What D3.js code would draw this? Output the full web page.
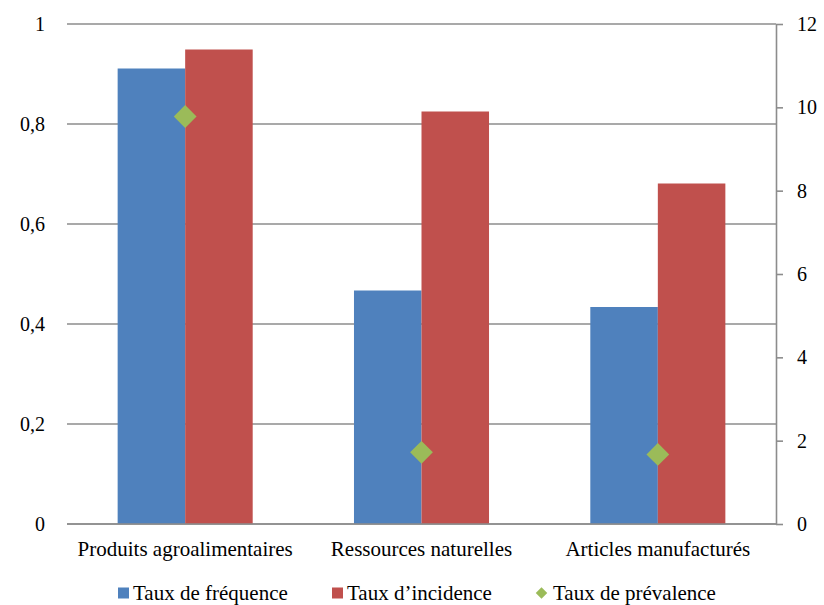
<!DOCTYPE html>
<html>
<head>
<meta charset="utf-8">
<script src="https://cdn.jsdelivr.net/npm/d3@7"></script>
<style>
  body { margin: 0; background: #fff; }
  svg { display: block; }
  svg text { font-family: "Liberation Serif", "Times New Roman", Times, serif !important; fill: #000; }
</style>
</head>
<body>
<svg id="chart" width="824" height="605"></svg>
<script>
// Categories and series
const categories = ["Produits agroalimentaires", "Ressources naturelles", "Articles manufacturés"];
const frequence = [0.911, 0.467, 0.434];   // left axis
const incidence = [0.949, 0.825, 0.681];   // left axis
const prevalence = [9.78, 1.72, 1.67];     // right axis
const leftTicks = [0, 0.2, 0.4, 0.6, 0.8, 1];
const rightTicks = [0, 2, 4, 6, 8, 10, 12];
const seriesNames = ["Taux de fréquence", "Taux d’incidence", "Taux de prévalence"];
const colors = ["#4F81BD", "#C0504D", "#9BBB59"];

const svg = d3.select("#chart");
const m = { left: 67, right: 776, top: 24, bottom: 524 };

const x0 = d3.scaleBand().domain(categories).range([m.left, m.right]).padding(0);
const x1 = d3.scaleBand().domain([0, 1]).range([0, x0.bandwidth()]).paddingInner(0).paddingOuter(0.75);
const yL = d3.scaleLinear().domain([0, 1]).range([m.bottom, m.top]);
const yR = d3.scaleLinear().domain([0, 12]).range([m.bottom, m.top]);

const fmt = d => String(d).replace(".", ",");
const gridColor = "#8c8c8c";

// Horizontal gridlines (left axis)
svg.append("g")
  .selectAll("line")
  .data(leftTicks)
  .join("line")
  .attr("x1", m.left).attr("x2", m.right)
  .attr("y1", d => yL(d)).attr("y2", d => yL(d))
  .attr("stroke", gridColor).attr("stroke-width", 1.6);

// Bars
const rows = categories.map((c, i) => ({ c, vals: [frequence[i], incidence[i]] }));
const groups = svg.append("g").selectAll("g")
  .data(rows).join("g")
  .attr("transform", d => `translate(${x0(d.c)},0)`);
groups.selectAll("rect")
  .data(d => d.vals.map((v, k) => ({ v, k })))
  .join("rect")
  .attr("x", d => x1(d.k))
  .attr("width", x1.bandwidth())
  .attr("y", d => yL(d.v))
  .attr("height", d => yL(0) - yL(d.v))
  .attr("fill", d => colors[d.k]);

// Left axis labels (no axis line)
const leftAxis = d3.axisLeft(yL).tickValues(leftTicks).tickFormat(fmt).tickSize(0).tickPadding(22);
const gL = svg.append("g").attr("transform", `translate(${m.left},0)`).call(leftAxis);
gL.select(".domain").remove();
gL.selectAll("text").attr("font-size", 20);

// Right axis with line and outward ticks
const rightAxis = d3.axisRight(yR).tickValues(rightTicks).tickFormat(fmt).tickSizeInner(7).tickSizeOuter(0).tickPadding(14);
const gR = svg.append("g").attr("transform", `translate(${m.right},0)`).call(rightAxis);
gR.select(".domain").attr("stroke", gridColor).attr("stroke-width", 1.6);
gR.selectAll(".tick line").attr("stroke", gridColor).attr("stroke-width", 1.6);
gR.selectAll("text").attr("font-size", 20);

// Baseline
svg.append("line")
  .attr("x1", m.left).attr("x2", m.right)
  .attr("y1", yL(0)).attr("y2", yL(0))
  .attr("stroke", gridColor).attr("stroke-width", 1.6);

// Category labels
svg.append("g").selectAll("text")
  .data(categories).join("text")
  .attr("x", d => x0(d) + x0.bandwidth() / 2)
  .attr("y", 556)
  .attr("text-anchor", "middle")
  .attr("font-size", 21)
  .text(d => d);

// Prevalence diamonds (right axis)
const diamond = d3.symbol().type(d3.symbolDiamond2).size(330);
svg.append("g").selectAll("path")
  .data(prevalence.map((v, i) => ({ v, c: categories[i] })))
  .join("path")
  .attr("d", diamond)
  .attr("transform", d => `translate(${x0(d.c) + x0.bandwidth() / 2},${yR(d.v)})`)
  .attr("fill", colors[2]);

// Legend
const legendX = [118, 332, 535];
const lg = svg.append("g").selectAll("g")
  .data(seriesNames).join("g")
  .attr("transform", (d, i) => `translate(${legendX[i]},593)`);
lg.each(function (d, i) {
  const g = d3.select(this);
  if (i < 2) {
    g.append("rect").attr("x", 0).attr("y", -5.5).attr("width", 11).attr("height", 11).attr("fill", colors[i]);
  } else {
    g.append("path").attr("d", d3.symbol().type(d3.symbolDiamond2).size(85)).attr("transform", "translate(6.5,0)").attr("fill", colors[i]);
  }
  g.append("text").attr("x", i === 2 ? 18 : 15).attr("y", 6.5).attr("font-size", 21).text(d);
});
</script>
</body>
</html>
